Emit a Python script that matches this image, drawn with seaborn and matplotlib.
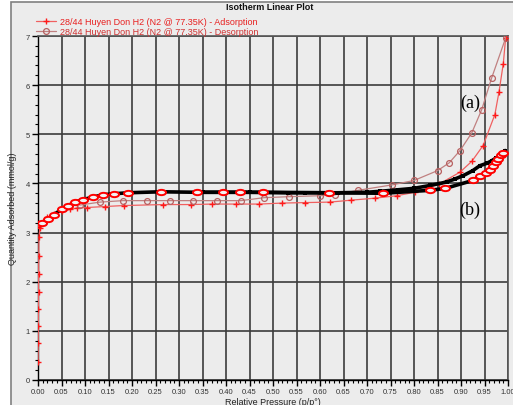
import numpy as np
import pandas as pd
import matplotlib
matplotlib.use("Agg")
import matplotlib.pyplot as plt
import seaborn as sns
from matplotlib.path import Path
from matplotlib.transforms import Affine2D
from matplotlib.patches import Rectangle
from matplotlib.ticker import MultipleLocator

# ---- data ----
a_ads_x = [0.0003, 0.0005, 0.0007, 0.0009, 0.0011, 0.0013, 0.0016, 0.002, 0.004,
           0.01, 0.02, 0.035, 0.05, 0.068, 0.083, 0.104, 0.143, 0.182, 0.267, 0.325,
           0.37, 0.421, 0.471, 0.519, 0.568, 0.621, 0.667, 0.717, 0.763,
           0.802, 0.854, 0.898, 0.923, 0.947, 0.972, 0.981, 0.99, 0.995]
a_ads_y = [0.37, 0.75, 1.09, 1.45, 1.80, 2.16, 2.53, 2.91, 3.10,
           3.22, 3.31, 3.38, 3.43, 3.47, 3.50, 3.51, 3.53, 3.55, 3.57, 3.57,
           3.58, 3.58, 3.58, 3.60, 3.61, 3.62, 3.66, 3.70, 3.75,
           3.82, 3.99, 4.23, 4.45, 4.77, 5.40, 5.87, 6.44, 6.96]

a_des_x = [0.995, 0.965, 0.944, 0.923, 0.898, 0.875, 0.850, 0.80, 0.753, 0.681,
           0.632, 0.60, 0.533, 0.481, 0.432, 0.381, 0.33, 0.281, 0.231, 0.181,
           0.132, 0.089]
a_des_y = [6.96, 6.14, 5.50, 5.03, 4.67, 4.42, 4.26, 4.06, 3.97, 3.86,
           3.77, 3.75, 3.73, 3.71, 3.65, 3.65, 3.65, 3.65, 3.65, 3.65,
           3.62, 3.56]

b_ads_x = [0.001, 0.008, 0.022, 0.033, 0.05, 0.064, 0.079, 0.095, 0.116, 0.139, 0.162,
           0.192, 0.261, 0.338, 0.394, 0.43, 0.478, 0.62, 0.735, 0.834, 0.867,
           0.925, 0.94, 0.953, 0.962, 0.969, 0.974, 0.979, 0.985, 0.99]
b_ads_y = [3.18, 3.20, 3.28, 3.36, 3.47, 3.55, 3.62, 3.67, 3.72, 3.77, 3.79,
           3.81, 3.83, 3.82, 3.82, 3.82, 3.82, 3.81, 3.80, 3.86, 3.90,
           4.06, 4.15, 4.22, 4.28, 4.36, 4.43, 4.50, 4.57, 4.62]

b_des_x = [0.994, 0.985, 0.975, 0.965, 0.955, 0.94, 0.925, 0.905, 0.887, 0.87,
           0.835, 0.80, 0.765, 0.728, 0.70, 0.638, 0.568, 0.532, 0.45, 0.35]
b_des_y = [4.67, 4.60, 4.52, 4.46, 4.41, 4.36, 4.26, 4.16, 4.09, 4.03,
           3.96, 3.90, 3.87, 3.84, 3.82, 3.81, 3.81, 3.81, 3.82, 3.82]

x_ticks = [round(0.05 * i, 2) for i in range(21)]
y_ticks = list(range(8))
legend_labels = ["28/44 Huyen Don H2 (N2 @ 77.35K) - Adsorption",
                 "28/44 Huyen Don H2 (N2 @ 77.35K) - Desorption"]

# ---- figure ----
W, H = 513, 406
fig = plt.figure(figsize=(W / 100, H / 100), dpi=100, facecolor="white")
sns.set_style("white")
plt.rcParams["font.family"] = ["Liberation Sans", "DejaVu Sans"]

fig.patches.append(Rectangle((11 / W, -0.05), 1.1, (H - 3) / H + 0.05,
                             transform=fig.transFigure, facecolor="#ececec",
                             edgecolor="#808080", linewidth=1.2, zorder=-10))

ax = fig.add_axes([38 / W, (H - 381) / H, 470 / W, 344 / H])
ax.set_facecolor("#ececec")

ell = Path.unit_circle().transformed(Affine2D().scale(1.7, 1.0))

red = "#ff1a1a"
brown = "#b86060"

sns.lineplot(x=a_ads_x, y=a_ads_y, ax=ax, sort=False, estimator=None,
             color="#f06060", linewidth=0.9, marker="+", markersize=5,
             markeredgewidth=1.0, markeredgecolor=red, zorder=3)
sns.lineplot(x=a_des_x, y=a_des_y, ax=ax, sort=False, estimator=None,
             color="#c08080", linewidth=0.9, marker="o", markersize=4.2,
             markeredgewidth=0.9, markeredgecolor=brown,
             markerfacecolor="none", zorder=3)
sns.lineplot(x=b_des_x, y=b_des_y, ax=ax, sort=False, estimator=None,
             color="black", linewidth=2.6, marker="s", markersize=3.2,
             markeredgewidth=0, markerfacecolor="black", zorder=4)
sns.lineplot(x=b_ads_x, y=b_ads_y, ax=ax, sort=False, estimator=None,
             color="black", linewidth=2.6, marker=ell, markersize=6.5,
             markeredgewidth=1.4, markeredgecolor="#ff0000",
             markerfacecolor="#f2f2f2", zorder=5)

ax.set_xlim(0, 1.0)
ax.set_ylim(0, 7)
ax.set_xticks(x_ticks)
ax.set_xticklabels([f"{v:.2f}" for v in x_ticks])
ax.set_yticks(y_ticks)
ax.set_yticklabels([str(v) for v in y_ticks])
ax.xaxis.set_minor_locator(MultipleLocator(0.01))
ax.yaxis.set_minor_locator(MultipleLocator(0.2))
ax.tick_params(axis="both", which="major", direction="out", length=4, width=1,
               color="black", labelsize=5.5, labelcolor="#333333", pad=2)
ax.tick_params(axis="both", which="minor", direction="out", length=2, width=0.8,
               color="black")
ax.tick_params(axis="x", which="both", bottom=True)
ax.tick_params(axis="y", which="both", left=True)
ax.grid(True, which="major", color="#3c3c3c", linewidth=1.2)
ax.set_axisbelow(True)
for s in ["top", "right"]:
    ax.spines[s].set_color("#555555")
    ax.spines[s].set_linewidth(1.2)
for s in ["left", "bottom"]:
    ax.spines[s].set_color("black")
    ax.spines[s].set_linewidth(1.0)

ax.set_xlabel("Relative Pressure (p/p°)", fontsize=6.5, color="#222222", labelpad=1)
ax.set_ylabel("Quantity Adsorbed (mmol/g)", fontsize=6.5, color="#222222", labelpad=6)

fig.text(270 / W, 1 - 7 / H, "Isotherm Linear Plot", ha="center", va="center",
         fontsize=6.5, fontweight="bold", color="#111111")

lines = ax.get_lines()
leg = ax.legend(handles=[lines[0], lines[1]], labels=legend_labels,
                loc="upper left", bbox_to_anchor=(36 / W, 1 - 18 / H),
                bbox_transform=fig.transFigure, frameon=False, fontsize=6.5,
                handlelength=2.2, handletextpad=0.5, labelspacing=0.15,
                borderpad=0, borderaxespad=0)
leg.get_texts()[0].set_color("#e82020")
leg.get_texts()[1].set_color("#d03030")

ax.text(0.919, 5.66, "(a)", family=["Liberation Serif", "DejaVu Serif"],
        fontsize=13, ha="center", va="center", color="black", zorder=6)
ax.text(0.919, 3.48, "(b)", family=["Liberation Serif", "DejaVu Serif"],
        fontsize=13, ha="center", va="center", color="black", zorder=6)

fig.savefig("out.png", dpi=100, facecolor=fig.get_facecolor())
